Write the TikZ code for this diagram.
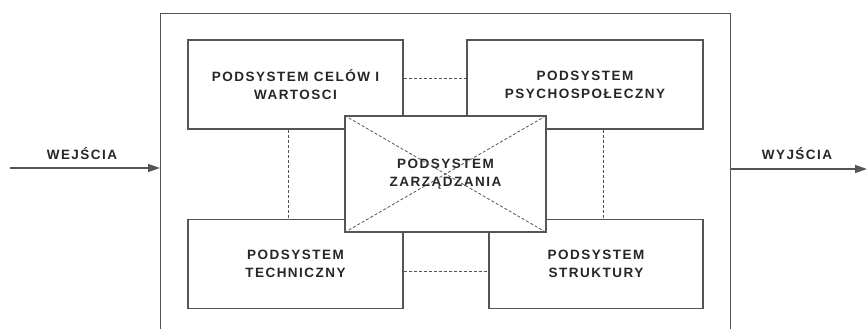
\documentclass[tikz,border=0pt]{standalone}
\usepackage{fontspec}
\setmainfont{Liberation Sans}
\newfontfamily\podfont{Liberation Sans}[LetterSpace=11]
\usetikzlibrary{arrows.meta}
\definecolor{linegray}{HTML}{555555}
\definecolor{txtgray}{HTML}{262626}
\begin{document}
\begin{tikzpicture}[x=1pt,y=-1pt,
  box/.style={draw=linegray,line width=1.2pt,fill=white,align=center,text=txtgray,
    font={\fontsize{13.5}{18}\podfont\bfseries},inner sep=0pt},
  link/.style={draw=linegray,line width=0.8pt,dash pattern=on 3pt off 2pt},
  flow/.style={draw=linegray,line width=1.3pt,-{Triangle[length=12pt,width=8pt]}},
  lbl/.style={text=txtgray,font={\fontsize{13.5}{18}\podfont\bfseries},inner sep=0pt}]
\useasboundingbox (0,0) rectangle (868,329);
\node[draw=linegray,line width=1.2pt,minimum width=570pt,minimum height=340pt,anchor=north west] (system) at (160,13) {};
\node[box,minimum width=215pt,minimum height=89pt] (celow) at (295.5,84.5) {PODSYSTEM CEL\'OW I\\WARTOSCI};
\node[box,minimum width=236pt,minimum height=89pt] (psycho) at (585,84.5) {PODSYSTEM\\PSYCHOSPOŁECZNY};
\node[box,minimum width=215pt,minimum height=89pt] (techn) at (295.5,264) {PODSYSTEM\\TECHNICZNY};
\node[box,minimum width=214pt,minimum height=89pt] (struk) at (596,264) {PODSYSTEM\\STRUKTURY};
\draw[link] ([yshift=6pt]celow.east) -- ([yshift=6pt]psycho.west);
\draw[link] ([yshift=-7pt]techn.east) -- ([yshift=-7pt]struk.west);
\draw[link] ([xshift=-7pt]celow.south) -- ([xshift=-7pt]techn.north);
\draw[link] ([xshift=18pt]psycho.south) -- ([xshift=7pt]struk.north);
\node[box,minimum width=201pt,minimum height=116pt] (zarz) at (445.5,174) {PODSYSTEM\\ZARZĄDZANIA};
\draw[link] (zarz.north west) -- (zarz.south east);
\draw[link] (zarz.south west) -- (zarz.north east);
\coordinate (inpt) at (10,168);
\coordinate (outpt) at (867,169);
\draw[flow] (inpt) -- (inpt -| system.west);
\draw[flow] (outpt -| system.east) -- (outpt);
\node[lbl] (wej) at (82,154) {WEJŚCIA};
\node[lbl] (wyj) at (797,154) {WYJŚCIA};
\end{tikzpicture}
\end{document}
